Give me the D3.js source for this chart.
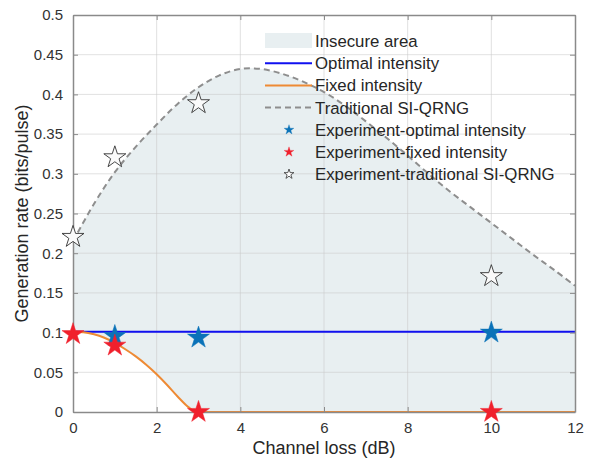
<!DOCTYPE html>
<html>
<head>
<meta charset="utf-8">
<script src="https://cdn.jsdelivr.net/npm/d3@7"></script>
<style>
  body { margin: 0; background: #fff; }
  text { font-family: "Liberation Sans", Arial, sans-serif; }
</style>
</head>
<body>
<script>
// channel loss grid + curves
var tradLoss = [0, 0.5, 1, 1.5, 2, 2.5, 3, 3.5, 4, 4.5, 5, 5.5, 6, 6.5, 7, 7.5, 8, 8.5, 9, 9.5, 10, 10.5, 11, 11.5, 12];
var tradRate = [0.215, 0.262, 0.302, 0.334, 0.362, 0.388, 0.409, 0.424, 0.432, 0.432, 0.426, 0.416, 0.403, 0.386, 0.366, 0.345, 0.323, 0.300, 0.278, 0.258, 0.238, 0.218, 0.198, 0.179, 0.159];

var fixedLoss = [0, 0.25, 0.5, 0.75, 1, 1.25, 1.5, 1.75, 2, 2.25, 2.5, 2.75, 2.95, 3, 12];
var fixedRate = [0.101, 0.1005, 0.098, 0.0935, 0.087, 0.079, 0.070, 0.0595, 0.0475, 0.034, 0.0195, 0.0065, 0, 0, 0];

var optLoss = [0, 12];
var optRate = [0.101, 0.101];

// experiment points
var expOptLoss = [1, 3, 10];
var expOptRate = [0.0957, 0.0936, 0.0999];
var expFixLoss = [0, 1, 3, 10];
var expFixRate = [0.098, 0.0835, 0, 0];
var expTradLoss = [0, 1, 3, 10];
var expTradRate = [0.2204, 0.3207, 0.3888, 0.171];

var xTicks = [0, 2, 4, 6, 8, 10, 12];
var yTicks = [0, 0.05, 0.1, 0.15, 0.2, 0.25, 0.3, 0.35, 0.4, 0.45, 0.5];

var width = 592, height = 462;
var pL = 73, pR = 575, pT = 15, pB = 412;

var svg = d3.select("body").append("svg")
    .attr("width", width)
    .attr("height", height);

var x = d3.scaleLinear().domain([0, 12]).range([pL, pR]);
var y = d3.scaleLinear().domain([0, 0.5]).range([pB, pT]);

function zipPts(xs, ys) {
  return xs.map(function(d, i) { return [d, ys[i]]; });
}

var fillColor = "#e8eff1";
var tradCurve = d3.curveCatmullRom.alpha(0.5);

// insecure area: under traditional curve, minus the region under fixed curve
svg.append("path")
    .datum(zipPts(tradLoss, tradRate))
    .attr("fill", fillColor)
    .attr("d", d3.area().curve(tradCurve)
      .x(function(d) { return x(d[0]); })
      .y0(y(0))
      .y1(function(d) { return y(d[1]); }));

svg.append("path")
    .datum(zipPts(fixedLoss, fixedRate))
    .attr("fill", "#fff")
    .attr("d", d3.area().curve(d3.curveMonotoneX)
      .x(function(d) { return x(d[0]); })
      .y0(y(0))
      .y1(function(d) { return y(d[1]); }));

// grid
var grid = svg.append("g").attr("stroke", "#c8c8c8").attr("stroke-opacity", 0.55);
xTicks.forEach(function(t) {
  if (t == 0 || t == 12) return;
  grid.append("line").attr("x1", x(t)).attr("x2", x(t)).attr("y1", pT).attr("y2", pB);
});
yTicks.forEach(function(t) {
  if (t == 0 || t == 0.5) return;
  grid.append("line").attr("x1", pL).attr("x2", pR).attr("y1", y(t)).attr("y2", y(t));
});

// lines
function lineWith(curve) {
  return d3.line().curve(curve)
    .x(function(d) { return x(d[0]); })
    .y(function(d) { return y(d[1]); });
}

svg.append("path").datum(zipPts(optLoss, optRate))
    .attr("fill", "none").attr("stroke", "#1010f0").attr("stroke-width", 2).attr("d", lineWith(d3.curveLinear));

svg.append("path").datum(zipPts(fixedLoss, fixedRate))
    .attr("fill", "none").attr("stroke", "#ee8a34").attr("stroke-width", 2).attr("d", lineWith(d3.curveMonotoneX));

svg.append("path").datum(zipPts(tradLoss, tradRate))
    .attr("fill", "none").attr("stroke", "#8e8e8e").attr("stroke-width", 2)
    .attr("stroke-dasharray", "6,4").attr("d", lineWith(tradCurve));

// axes box with inward ticks
var axColor = "#8a8a8a";
var xAx = svg.append("g").attr("transform", "translate(0," + pB + ")")
    .call(d3.axisBottom(x).tickValues(xTicks).tickSizeInner(-5).tickSizeOuter(0).tickPadding(10));
var xTop = svg.append("g").attr("transform", "translate(0," + pT + ")")
    .call(d3.axisTop(x).tickValues(xTicks).tickSizeInner(-5).tickSizeOuter(0).tickFormat(""));
var yAx = svg.append("g").attr("transform", "translate(" + pL + ",0)")
    .call(d3.axisLeft(y).tickValues(yTicks).tickSizeInner(-5).tickSizeOuter(0).tickPadding(10)
      .tickFormat(function(d) { return String(+d.toFixed(2)); }));
var yRight = svg.append("g").attr("transform", "translate(" + pR + ",0)")
    .call(d3.axisRight(y).tickValues(yTicks).tickSizeInner(-5).tickSizeOuter(0).tickFormat(""));

[xAx, xTop, yAx, yRight].forEach(function(g) {
  g.select(".domain").attr("stroke", axColor).attr("stroke-width", 1.5);
  g.selectAll(".tick line").attr("stroke", axColor);
  g.selectAll("text").attr("fill", "#333").style("font-size", "15px")
    .style("font-family", "'Liberation Sans', Arial, sans-serif");
});

// experiment stars
var bigStar = d3.symbol().type(d3.symbolStar).size(150);
var smallStar = d3.symbol().type(d3.symbolStar).size(30);

function stars(xs, ys, fill, stroke, sw) {
  svg.append("g").selectAll("path")
    .data(zipPts(xs, ys))
    .join("path")
      .attr("transform", function(d) { return "translate(" + x(d[0]) + "," + y(d[1]) + ")"; })
      .attr("d", bigStar)
      .attr("fill", fill)
      .attr("stroke", stroke)
      .attr("stroke-width", sw);
}
stars(expOptLoss, expOptRate, "#0a72b8", "#0a72b8", 0.5);
stars(expFixLoss, expFixRate, "#f0202c", "#f0202c", 0.5);
stars(expTradLoss, expTradRate, "#fafafa", "#333", 0.9);

// axis labels
svg.append("text")
    .attr("x", (pL + pR) / 2).attr("y", 454)
    .attr("text-anchor", "middle").attr("fill", "#262626")
    .style("font-size", "18px")
    .text("Channel loss (dB)");

svg.append("text")
    .attr("transform", "translate(28," + ((pT + pB) / 2) + ") rotate(-90)")
    .attr("text-anchor", "middle").attr("fill", "#262626")
    .style("font-size", "18px")
    .text("Generation rate (bits/pulse)");

// legend
var legItems = [
  { label: "Insecure area", kind: "patch" },
  { label: "Optimal intensity", kind: "line", color: "#1010f0" },
  { label: "Fixed intensity", kind: "line", color: "#ee8a34" },
  { label: "Traditional SI-QRNG", kind: "dash", color: "#8e8e8e" },
  { label: "Experiment-optimal intensity", kind: "star", color: "#0a72b8" },
  { label: "Experiment-fixed intensity", kind: "star", color: "#f0202c" },
  { label: "Experiment-traditional SI-QRNG", kind: "ostar", color: "#333" }
];

var leg = svg.append("g");
legItems.forEach(function(it, i) {
  var cy = 41 + i * 22.2;
  if (it.kind == "patch") {
    leg.append("rect").attr("x", 265).attr("y", cy - 8).attr("width", 47).attr("height", 15).attr("fill", fillColor);
  } else if (it.kind == "line" || it.kind == "dash") {
    leg.append("line").attr("x1", 265).attr("x2", 312).attr("y1", cy).attr("y2", cy)
      .attr("stroke", it.color).attr("stroke-width", 2)
      .attr("stroke-dasharray", it.kind == "dash" ? "6,4" : null);
  } else {
    leg.append("path").attr("transform", "translate(289," + cy + ")")
      .attr("d", smallStar)
      .attr("fill", it.kind == "ostar" ? "#fff" : it.color)
      .attr("stroke", it.color).attr("stroke-width", it.kind == "ostar" ? 0.8 : 0.3);
  }
  leg.append("text").attr("x", 315).attr("y", cy + 6)
    .attr("fill", "#262626").style("font-size", "16.8px")
    .text(it.label);
});
</script>
</body>
</html>
